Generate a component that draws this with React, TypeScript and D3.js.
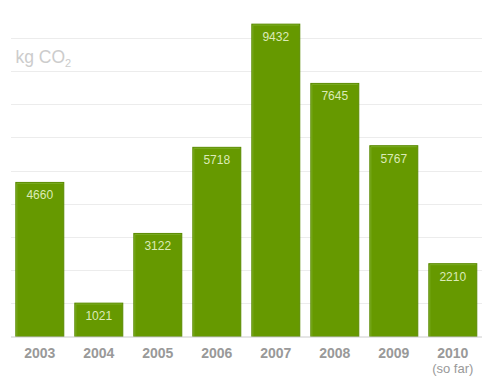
import React, { useEffect, useRef } from "react";
import * as d3 from "d3";

const years = ["2003", "2004", "2005", "2006", "2007", "2008", "2009", "2010"];
const values = [4660, 1021, 3122, 5718, 9432, 7645, 5767, 2210];
const gridTicks = [1000, 2000, 3000, 4000, 5000, 6000, 7000, 8000, 9000];
const notes = ["", "", "", "", "", "", "", "(so far)"];

const W = 492;
const H = 387;

const App = () => {
  const ref = useRef<SVGSVGElement>(null);

  useEffect(() => {
    const svg = d3.select(ref.current);
    svg.selectAll("*").remove();

    const font = "'Liberation Sans', Arial, Helvetica, sans-serif";
    const baseY = 336.5;

    const x = d3
      .scaleBand()
      .domain(years)
      .range([10.3, 482.3])
      .paddingInner(0.17)
      .paddingOuter(0.085);

    const y = d3.scaleLinear().domain([0, 10000]).range([baseY, 4.8]);

    // grid lines
    svg
      .append("g")
      .selectAll("line")
      .data(gridTicks)
      .enter()
      .append("line")
      .attr("x1", 11)
      .attr("x2", 482)
      .attr("y1", (d) => Math.round(y(d)) + 0.5)
      .attr("y2", (d) => Math.round(y(d)) + 0.5)
      .attr("stroke", "#ececec")
      .attr("stroke-width", 1);

    // unit label
    const unit = svg
      .append("text")
      .attr("x", 15.5)
      .attr("y", 63)
      .attr("font-family", font)
      .attr("font-size", 17.5)
      .attr("fill", "#cccccc");
    unit.append("tspan").text("kg CO");
    unit.append("tspan").attr("font-size", 11).attr("dy", 3.5).text("2");

    const bars = svg
      .append("g")
      .selectAll("g")
      .data(values)
      .enter()
      .append("g");

    bars
      .append("rect")
      .attr("x", (d, i) => x(years[i])! + 0.5)
      .attr("y", (d) => y(d) + 0.5)
      .attr("width", x.bandwidth() - 1)
      .attr("height", (d) => baseY - y(d) - 0.5)
      .attr("fill", "#669900")
      .attr("stroke", "#5a8a00");

    // inner highlight
    bars
      .append("path")
      .attr("d", (d, i) => {
        const x0 = x(years[i])! + 1.5;
        const y0 = y(d) + 1.5;
        return `M${x0},${baseY}V${y0}H${x0 + x.bandwidth() - 3}`;
      })
      .attr("fill", "none")
      .attr("stroke", "#7aab22")
      .attr("stroke-width", 1);

    bars
      .append("text")
      .attr("x", (d, i) => x(years[i])! + x.bandwidth() / 2)
      .attr("y", (d) => y(d) + 17.5)
      .attr("text-anchor", "middle")
      .attr("font-family", font)
      .attr("font-size", 12)
      .attr("fill", "#dcebb8")
      .text((d) => d);

    // baseline
    svg
      .append("line")
      .attr("x1", 11)
      .attr("x2", 482)
      .attr("y1", baseY + 0.5)
      .attr("y2", baseY + 0.5)
      .attr("stroke", "#cccccc");

    const labels = svg.append("g");
    labels
      .selectAll("text.year")
      .data(years)
      .enter()
      .append("text")
      .attr("class", "year")
      .attr("x", (d) => x(d)! + x.bandwidth() / 2)
      .attr("y", 358)
      .attr("text-anchor", "middle")
      .attr("font-family", font)
      .attr("font-size", 14)
      .attr("font-weight", "bold")
      .attr("fill", "#999999")
      .text((d) => d);

    labels
      .selectAll("text.note")
      .data(notes)
      .enter()
      .append("text")
      .attr("class", "note")
      .attr("x", (d, i) => x(years[i])! + x.bandwidth() / 2)
      .attr("y", 372.5)
      .attr("text-anchor", "middle")
      .attr("font-family", font)
      .attr("font-size", 13)
      .attr("fill", "#999999")
      .text((d) => d);
  }, []);

  return (
    <div style={{ position: "absolute", left: 0, top: 0 }}>
      <svg ref={ref} width={W} height={H} style={{ display: "block" }} />
    </div>
  );
};

export default App;
